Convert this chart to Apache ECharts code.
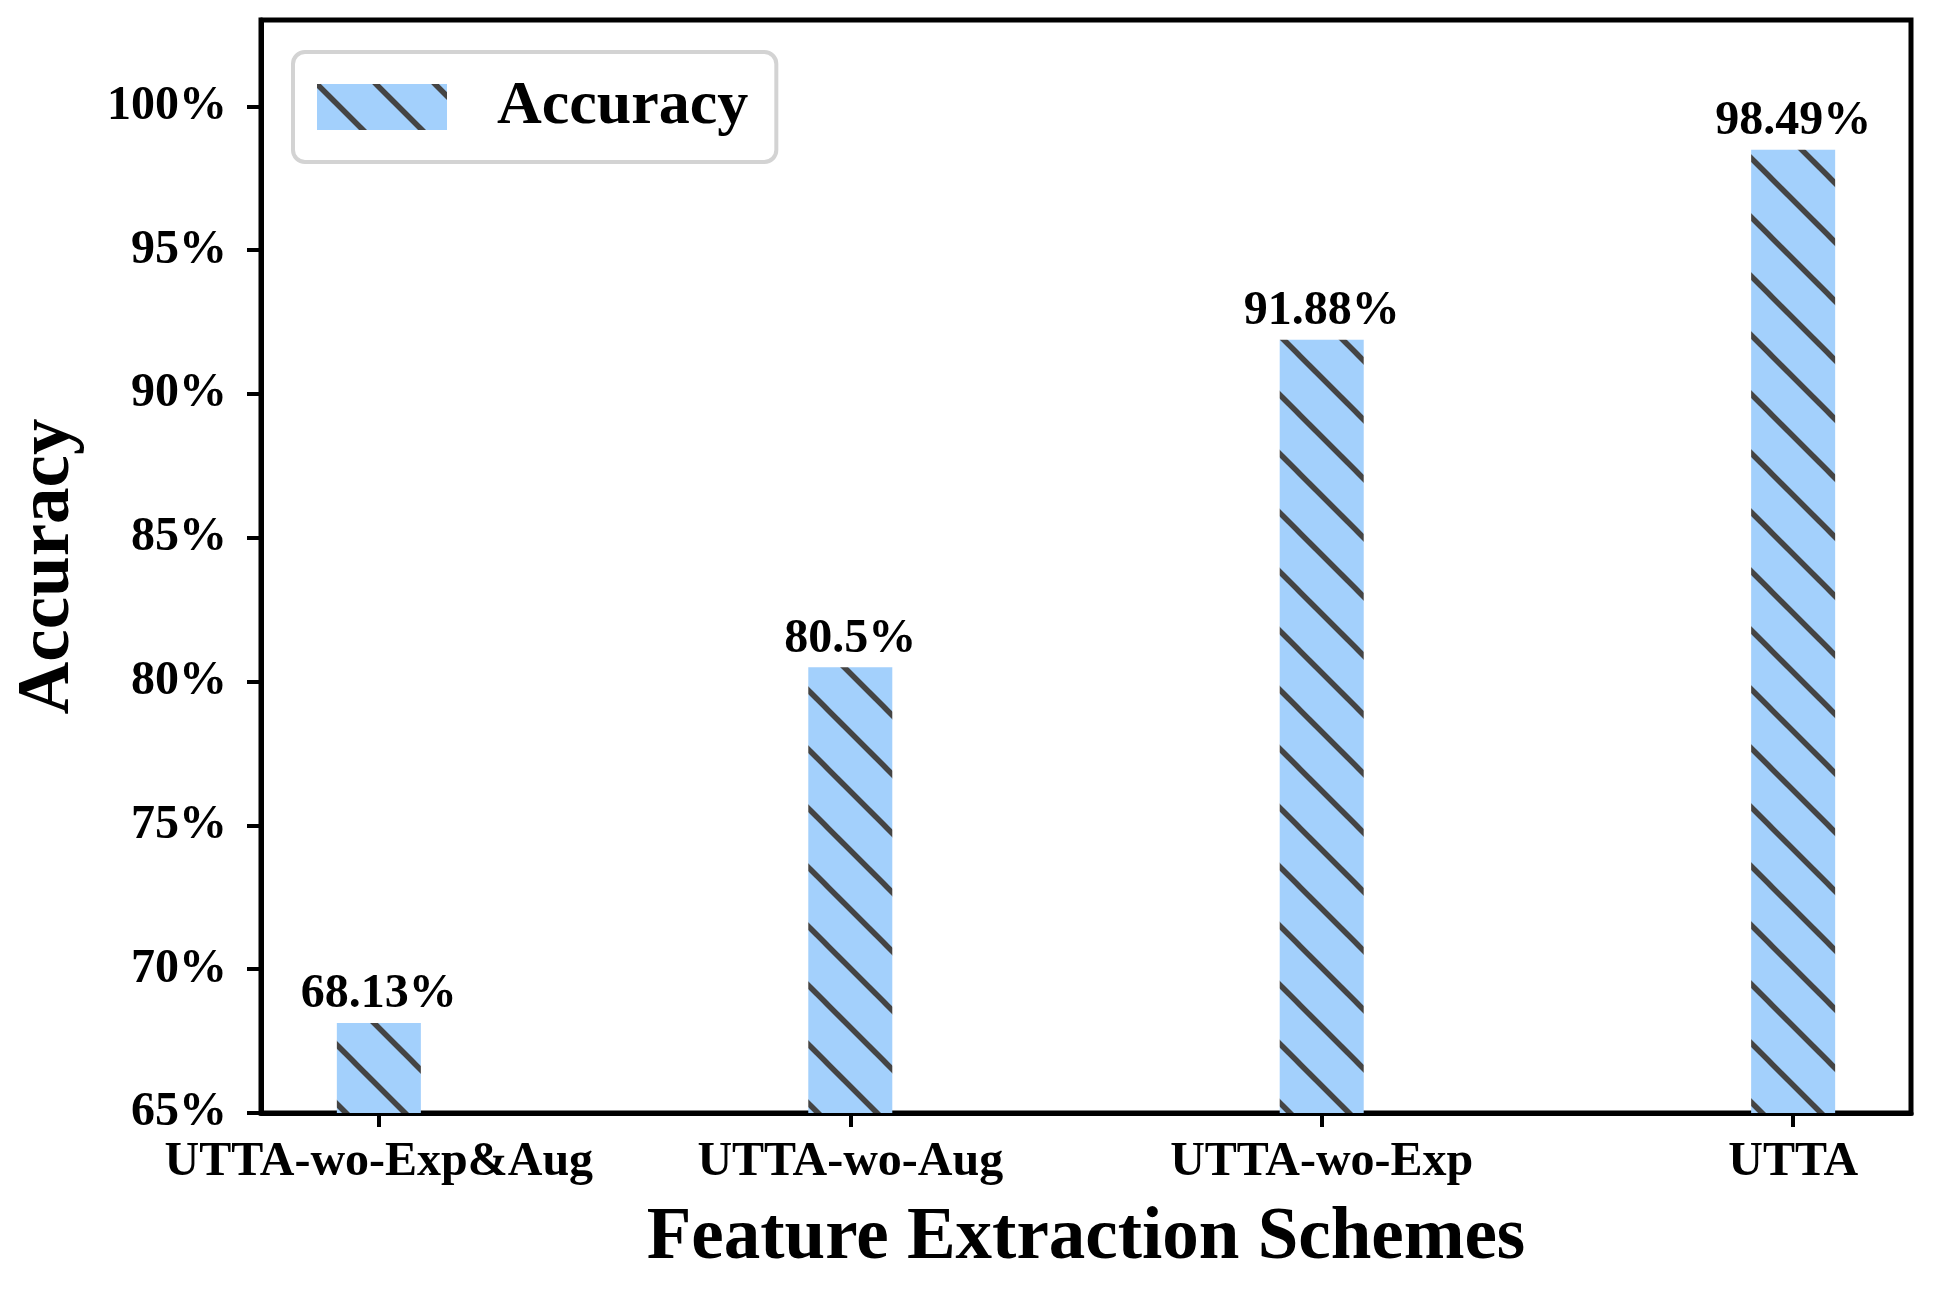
<!DOCTYPE html>
<html>
<head>
<meta charset="utf-8">
<script src="https://cdn.jsdelivr.net/npm/echarts@6/dist/echarts.min.js"></script>
<style>
html,body{margin:0;padding:0;background:#fff;}
#chart{width:1933px;height:1294px;}
</style>
</head>
<body>
<div id="chart"></div>
<script>
const categories = ['UTTA-wo-Exp&Aug', 'UTTA-wo-Aug', 'UTTA-wo-Exp', 'UTTA'];
const accuracy = [68.13, 80.5, 91.88, 98.49];
const yTicks = [65, 70, 75, 80, 85, 90, 95, 100];
const seriesName = 'Accuracy';

const FONT = '"Liberation Serif", "DejaVu Serif", serif';

// hatch pattern "\\"
const s = 59;
const cv = document.createElement('canvas');
cv.width = s; cv.height = s;
const ctx = cv.getContext('2d');
ctx.fillStyle = '#a3d0fc';
ctx.fillRect(0, 0, s, s);
ctx.strokeStyle = '#444444';
ctx.lineWidth = 5.5;
[-s, 0, s].forEach(c => {
  ctx.beginPath();
  ctx.moveTo(c - 5, -5);
  ctx.lineTo(c + s + 5, s + 5);
  ctx.stroke();
});

const chart = echarts.init(document.getElementById('chart'));
chart.setOption({
  animation: false,
  backgroundColor: '#fff',
  grid: {
    left: 261, right: 22, top: 20, bottom: 181,
    show: true, borderColor: '#000', borderWidth: 5, backgroundColor: 'transparent'
  },
  legend: {
    data: [seriesName],
    left: 293, top: 52,
    icon: 'rect',
    itemWidth: 130, itemHeight: 46,
    padding: [24, 28, 24, 24],
    borderColor: '#d3d3d3', borderWidth: 4, borderRadius: 12,
    backgroundColor: '#fff',
    textStyle: { fontFamily: FONT, fontWeight: 'bold', fontSize: 62, color: '#000', padding: [0, 0, 0, 45] }
  },
  xAxis: {
    type: 'value', min: -0.25, max: 3.25,
    name: 'Feature Extraction Schemes',
    nameLocation: 'middle', nameGap: 90,
    nameTextStyle: { fontFamily: FONT, fontWeight: 'bold', fontSize: 73, color: '#000' },
    splitLine: { show: false },
    axisLine: { show: true, onZero: false, lineStyle: { color: '#000', width: 5 } },
    axisTick: { show: true, customValues: [0, 1, 2, 3], length: 14, lineStyle: { color: '#000', width: 4 } },
    axisLabel: {
      customValues: [0, 1, 2, 3],
      formatter: v => categories[Math.round(v)],
      fontFamily: FONT, fontWeight: 'bold', fontSize: 48, color: '#000', margin: 26
    }
  },
  yAxis: {
    type: 'value', min: 65, max: 103, interval: 5,
    name: 'Accuracy',
    nameLocation: 'middle', nameGap: 175, nameRotate: 90,
    nameTextStyle: { fontFamily: FONT, fontWeight: 'bold', fontSize: 73, color: '#000' },
    splitLine: { show: false },
    axisLine: { show: true, onZero: false, lineStyle: { color: '#000', width: 5 } },
    axisTick: { show: true, customValues: yTicks, length: 14, lineStyle: { color: '#000', width: 4 } },
    axisLabel: {
      customValues: yTicks,
      formatter: v => v + '%',
      fontFamily: FONT, fontWeight: 'bold', fontSize: 48, color: '#000', margin: 34
    }
  },
  series: [{
    name: seriesName,
    type: 'bar',
    barWidth: 84,
    data: accuracy.map((v, i) => [i, v]),
    itemStyle: { color: { image: cv, repeat: 'repeat' } },
    label: {
      show: true, position: 'top', distance: 4,
      formatter: p => p.value[1] + '%',
      fontFamily: FONT, fontWeight: 'bold', fontSize: 48, color: '#000'
    }
  }]
});
</script>
</body>
</html>
